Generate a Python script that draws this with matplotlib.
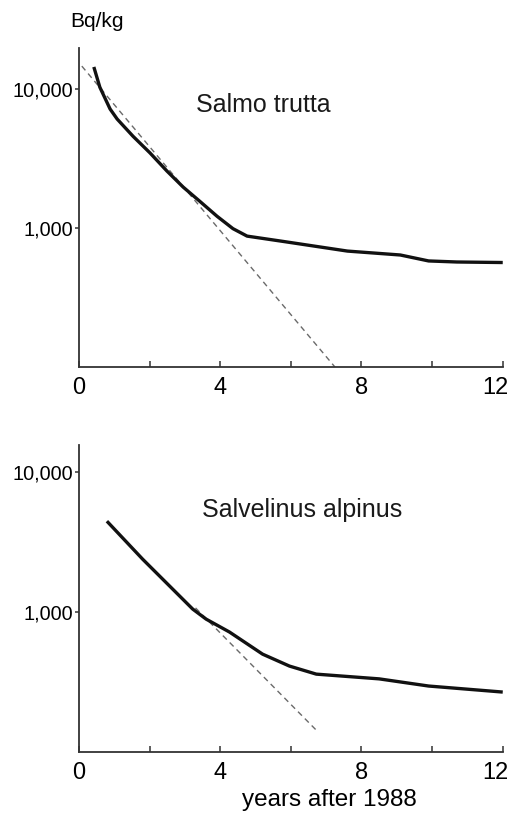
import matplotlib
matplotlib.use("Agg")
import matplotlib.pyplot as plt
import matplotlib.transforms as mtransforms

plt.rcParams['font.family'] = ['Liberation Sans', 'DejaVu Sans']

# Salmo trutta: measured activity and fitted exponential decline
trutta_years = [0.42, 0.59, 0.88, 1.08, 1.53, 2.01, 2.49, 2.95, 3.43, 3.91,
                4.36, 4.76, 5.8, 7.6, 9.1, 9.9, 10.7, 12.0]
trutta_bq = [14400, 10300, 7180, 6080, 4570, 3470, 2570, 1970, 1550, 1215,
             990, 875, 800, 683, 640, 580, 570, 565]
trutta_fit_years = [0.08, 7.25]
trutta_fit_bq = [14600, 100]

# Salvelinus alpinus
alpinus_years = [0.79, 1.8, 3.22, 3.6, 4.26, 5.2, 5.96, 6.72, 8.5, 9.9, 12.0]
alpinus_bq = [4460, 2390, 1050, 890, 720, 500, 411, 360, 333, 296, 268]
alpinus_fit_years = [3.3, 6.77]
alpinus_fit_bq = [1070, 139]

x_ticks = [0, 2, 4, 6, 8, 10, 12]
x_ticklabels = ['0', '', '4', '', '8', '', '12']
y_ticks = [1000, 10000]
y_ticklabels = ['1,000', '10,000']

fig = plt.figure(figsize=(5.13, 8.14), dpi=100)
ax_top = fig.add_axes([0.154, 0.549, 0.826, 0.392])
ax_bot = fig.add_axes([0.154, 0.0762, 0.826, 0.377])

panels = [
    (ax_top, trutta_years, trutta_bq, trutta_fit_years, trutta_fit_bq,
     'Salmo trutta', (0.434, 0.822), 19700),
    (ax_bot, alpinus_years, alpinus_bq, alpinus_fit_years, alpinus_fit_bq,
     'Salvelinus alpinus', (0.526, 0.79), 15600),
]

for ax, xs, ys, fx, fy, name, pos, ytop in panels:
    ax.plot(fx, fy, color='#6a6a6a', lw=1.0, dashes=(4, 3), zorder=2)
    ax.plot(xs, ys, color='#111111', lw=2.4, solid_capstyle='butt', zorder=3)
    ax.set_yscale('log')
    ax.set_xlim(0, 12)
    ax.set_ylim(100, ytop)
    ax.minorticks_off()
    ax.set_yticks(y_ticks)
    ax.set_yticklabels(y_ticklabels, fontsize=14.3)
    ax.set_xticks(x_ticks)
    ax.set_xticklabels(x_ticklabels, fontsize=17)
    ax.tick_params(axis='x', direction='in', length=4, width=1.1,
                   color='#333333', pad=7)
    ax.tick_params(axis='y', direction='out', length=3, width=1.1,
                   color='#333333', pad=1)
    # keep the last x label inside the figure edge
    last = ax.get_xticklabels()[-1]
    last.set_horizontalalignment('right')
    last.set_transform(last.get_transform() +
                       mtransforms.ScaledTranslation(4 / 72, 0, fig.dpi_scale_trans))
    for side in ('top', 'right'):
        ax.spines[side].set_visible(False)
    for side in ('left', 'bottom'):
        ax.spines[side].set_color('#333333')
        ax.spines[side].set_linewidth(1.3)
    ax.text(pos[0], pos[1], name, transform=ax.transAxes, fontsize=18,
            ha='center', va='center', color='#1a1a1a')

fig.text(0.189, 0.973, 'Bq/kg', fontsize=15, ha='center', va='center')
fig.text(0.643, 0.0095, 'years after 1988', fontsize=17.5, ha='center',
         va='baseline')

fig.savefig('out.png', dpi=100, facecolor='white')
